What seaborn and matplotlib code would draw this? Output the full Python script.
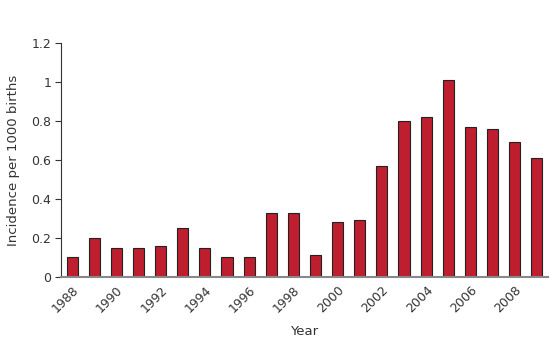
import matplotlib
matplotlib.use("Agg")
import matplotlib.pyplot as plt
import seaborn as sns
import pandas as pd

years = [str(y) for y in range(1988, 2010)]
incidence = [0.10, 0.20, 0.15, 0.15, 0.16, 0.25, 0.15, 0.10, 0.10, 0.33, 0.33,
             0.11, 0.28, 0.29, 0.57, 0.80, 0.82, 1.01, 0.77, 0.76, 0.69, 0.61]
y_ticks = [0, 0.2, 0.4, 0.6, 0.8, 1.0, 1.2]
y_tick_labels = ["0", "0.2", "0.4", "0.6", "0.8", "1", "1.2"]

df = pd.DataFrame({"Year": years, "Incidence": incidence})

sns.set_style("white")
plt.rcParams["font.family"] = ["DejaVu Sans"]

fig = plt.figure(figsize=(5.55, 3.44), dpi=100)
ax = fig.add_axes([0.11, 0.195, 0.877, 0.68])

sns.barplot(data=df, x="Year", y="Incidence", color="#BE1E2D", saturation=1,
            width=0.5, edgecolor="#222222", linewidth=0.8, ax=ax)

ax.set_xlim(-0.5, len(years) - 0.5)
ax.set_ylim(0, 1.2)
ax.set_yticks(y_ticks)
ax.set_yticklabels(y_tick_labels)

ax.set_xticks(range(len(years)))
ax.set_xticklabels([y if i % 2 == 0 else "" for i, y in enumerate(years)],
                   rotation=45, ha="right", rotation_mode="anchor")

ax.tick_params(axis="y", length=4, width=0.8, color="#333333", labelsize=9,
               labelcolor="#333333", pad=3, left=True)
ax.tick_params(axis="x", length=0, labelsize=9, labelcolor="#333333", pad=5)

for side in ("top", "right"):
    ax.spines[side].set_visible(False)
ax.spines["left"].set_color("#333333")
ax.spines["left"].set_linewidth(0.8)
ax.spines["bottom"].set_color("#888888")
ax.spines["bottom"].set_linewidth(1.5)

ax.set_xlabel("Year", fontsize=9.5, color="#333333", labelpad=7)
ax.set_ylabel("Incidence per 1000 births", fontsize=9.5, color="#333333", labelpad=8)

fig.savefig("out.png", dpi=100)
